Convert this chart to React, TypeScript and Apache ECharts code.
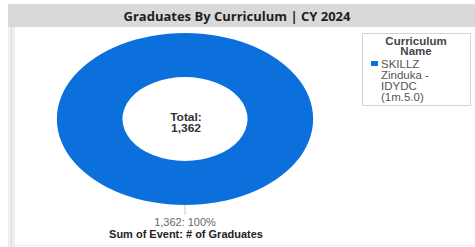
import React, { useEffect, useRef } from "react";
import * as echarts from "echarts";

const chartTitle = "Graduates By Curriculum | CY 2024";
const categories = ["SKILLZ Zinduka - IDYDC (1m.5.0)"];
const legendLines = [["SKILLZ", "Zinduka -", "IDYDC", "(1m.5.0)"]];
const values = [1362];
const legendTitle = ["Curriculum", "Name"];
const measureName = "Sum of Event: # of Graduates";
const totalLabel = "Total:";
const colors = ["#0b6fdc"];

export default function App() {
  const ref = useRef<HTMLDivElement>(null);
  useEffect(() => {
    const chart = echarts.init(ref.current!, null, { renderer: "svg" });
    const total = values.reduce((a, b) => a + b, 0);
    const fmt = (n: number) => n.toLocaleString("en-US");
    const cx = 185, cy = 119, R = 86, R0 = 42, sx = 1.49;
    const starts: number[] = [];
    let acc = 0;
    values.forEach((v) => { starts.push(acc); acc += v; });
    const font = "Liberation Sans, Arial, sans-serif";

    const legendGraphics: any[] = [];
    categories.forEach((c, i) => {
      legendGraphics.push({ type: "rect", shape: { x: 371, y: 61 + i * 46, width: 7, height: 5 }, style: { fill: colors[i] } });
      legendLines[i].forEach((ln, j) => {
        legendGraphics.push({ type: "text", x: 381, y: 64 + i * 46 + j * 11, scaleX: 1.15, style: { text: ln, font: `10px ${font}`, fill: "#555", textVerticalAlign: "middle" } });
      });
    });

    chart.setOption({
      animation: false,
      graphic: [
        { type: "rect", shape: { x: 8, y: 4, width: 467, height: 23 }, style: { fill: "#d9d9d9" } },
        { type: "text", x: 237, y: 16, style: { text: chartTitle, font: `bold 13px "Open Sans", sans-serif`, fill: "#1e1e1e", textAlign: "center", textVerticalAlign: "middle" } },
        { type: "rect", shape: { x: 8, y: 27, width: 7, height: 220 }, style: { fill: "#efefef" } },
        { type: "line", shape: { x1: 11.5, y1: 27, x2: 11.5, y2: 247 }, style: { stroke: "#dcdcdc", lineWidth: 1 } },
        { type: "line", shape: { x1: 15, y1: 245.5, x2: 475, y2: 245.5 }, style: { stroke: "#eeeeee", lineWidth: 1 } },
        { type: "rect", shape: { x: 362.5, y: 33.5, width: 108, height: 72 }, style: { fill: "#fff", stroke: "#d4d4d4", lineWidth: 1 } },
        ...legendTitle.map((t, k) => ({ type: "text", x: 416, y: 41 + k * 10, scaleX: 1.15, style: { text: t, font: `bold 10px ${font}`, fill: "#444", textAlign: "center", textVerticalAlign: "middle" } })),
        ...legendGraphics,
        { type: "text", x: 186, y: 117, scaleX: 1.2, style: { text: totalLabel, font: `bold 10px ${font}`, fill: "#333", textAlign: "center", textVerticalAlign: "middle" } },
        { type: "text", x: 186, y: 128, scaleX: 1.2, style: { text: fmt(total), font: `bold 10px ${font}`, fill: "#333", textAlign: "center", textVerticalAlign: "middle" } },
        { type: "text", x: 186, y: 234, scaleX: 1.1, style: { text: measureName, font: `bold 10px ${font}`, fill: "#222", textAlign: "center", textVerticalAlign: "middle" } },
      ],
      series: [
        {
          type: "custom",
          coordinateSystem: "none",
          data: values.map((v, i) => [v, starts[i]]),
          renderItem: (params: any, api: any) => {
            const i = params.dataIndex;
            const v = api.value(0);
            const s = api.value(1);
            const a0 = -Math.PI / 2 + (s / total) * Math.PI * 2;
            const a1 = a0 + (v / total) * Math.PI * 2;
            const mid = (a0 + a1) / 2;
            const ex = cx + Math.cos(mid) * R * sx;
            const ey = cy + Math.sin(mid) * R;
            const lx = cx + Math.cos(mid) * (R + 10) * sx;
            const ly = cy + Math.sin(mid) * (R + 10);
            const pct = Math.round((v / total) * 100);
            return {
              type: "group",
              children: [
                { type: "sector", x: cx, y: cy, scaleX: sx, shape: { cx: 0, cy: 0, r: R, r0: R0, startAngle: a0, endAngle: a1, clockwise: true }, style: { fill: colors[i % colors.length] } },
                { type: "line", shape: { x1: ex, y1: ey, x2: lx, y2: ly }, style: { stroke: "#c8c8c8", lineWidth: 1 } },
                { type: "text", x: lx, y: ly + 7, scaleX: 1.1, style: { text: `${fmt(v)}: ${pct}%`, font: `10px ${font}`, fill: "#666", textAlign: "center", textVerticalAlign: "middle" } },
              ],
            };
          },
        },
      ],
    });
    return () => chart.dispose();
  }, []);
  return <div ref={ref} style={{ position: "fixed", left: 0, top: 0, width: 475, height: 247, background: "#fff" }} />;
}
